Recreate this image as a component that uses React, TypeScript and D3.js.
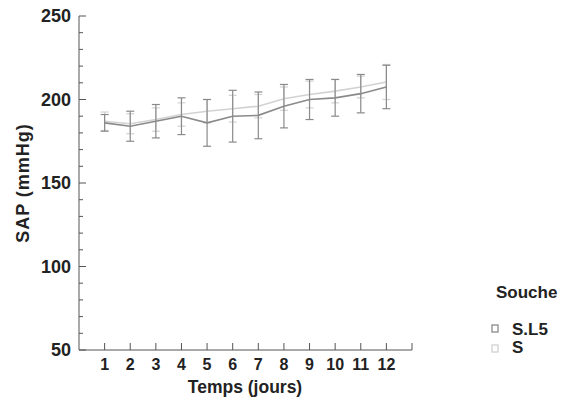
import React from "react";
import * as d3 from "d3";

const days = [1, 2, 3, 4, 5, 6, 7, 8, 9, 10, 11, 12];
const seriesNames = ["S.L5", "S"];
const meanSL5 = [186, 184, 187, 190, 186, 190, 190.5, 196, 200, 201, 203.5, 207.5];
const sdSL5 = [5, 9, 10, 11, 14, 15.5, 14, 13, 12, 11, 11.5, 13];
const meanS = [187, 185.5, 188, 191, 193, 194.5, 196, 200.5, 203, 205, 207.5, 210.5];
const sdS = [5.5, 6, 7, 7, 7, 8, 7, 7, 8, 7, 6.5, 10.5];
const yTicks = [50, 100, 150, 200, 250];
const yMinor = d3.range(50, 251, 10);
const xTicks = d3.range(1, 14);

const colors = ["#8a8a8a", "#d2d2d2"];

export default function App() {
  const W = 562, H = 406;
  const x = d3.scaleLinear().domain([0, 13]).range([79, 412]);
  const y = d3.scaleLinear().domain([50, 250]).range([350, 16]);
  const font = "'Liberation Sans', Arial, sans-serif";
  const line = d3.line<number>().x((_, i) => x(days[i])).y((d) => y(d));
  const series = [
    { name: seriesNames[0], mean: meanSL5, sd: sdSL5, color: colors[0] },
    { name: seriesNames[1], mean: meanS, sd: sdS, color: colors[1] },
  ];
  return (
    <svg width={W} height={H} style={{ position: "absolute", left: 0, top: 0 }}>
      <rect width={W} height={H} fill="#fff" />
      {[series[1], series[0]].map((s) => (
        <g key={s.name}>
          {s.mean.map((m, i) => {
            const cx = x(days[i]);
            const top = y(m + s.sd[i]);
            const bot = y(m - s.sd[i]);
            return (
              <g key={i} stroke={s.color} strokeWidth={1.2}>
                <line x1={cx} x2={cx} y1={top} y2={bot} />
                <line x1={cx - 4} x2={cx + 4} y1={top} y2={top} />
                <line x1={cx - 4} x2={cx + 4} y1={bot} y2={bot} />
              </g>
            );
          })}
          <path d={line(s.mean) || ""} fill="none" stroke={s.color} strokeWidth={1.6} />
        </g>
      ))}
      <g stroke="#555" strokeWidth={1}>
        <line x1={79} x2={79} y1={y(250)} y2={y(50)} />
        <line x1={79} x2={x(13)} y1={y(50)} y2={y(50)} />
        {yMinor.map((v) => (
          <line key={v} x1={79} x2={yTicks.includes(v) ? 86 : 83} y1={y(v)} y2={y(v)} />
        ))}
        {xTicks.map((v) => (
          <line key={v} x1={x(v)} x2={x(v)} y1={y(50)} y2={y(50) - 7} />
        ))}
      </g>
      <g fontFamily={font} fontWeight="bold" fontSize={17} fill="#222">
        {yTicks.map((v) => (
          <text key={v} x={71} y={y(v)} dy="0.35em" textAnchor="end" fontSize={18}>{v}</text>
        ))}
        {days.map((v) => (
          <text key={v} x={x(v)} y={370} textAnchor="middle" fontSize={16}>{v}</text>
        ))}
        <text x={245} y={393} textAnchor="middle" fontSize={17.5}>Temps (jours)</text>
        <text transform={`translate(29,183) rotate(-90)`} textAnchor="middle" fontSize={18} letterSpacing={1}>SAP (mmHg)</text>
        <text x={496} y={298} fontSize={17}>Souche</text>
        <text x={512} y={335} fontSize={17}>S.L5</text>
        <text x={512} y={353} fontSize={17}>S</text>
      </g>
      <rect x={492} y={325} width={6} height={7} fill="none" stroke={colors[0]} strokeWidth={1.3} />
      <rect x={492} y={345} width={6} height={7} fill="none" stroke={colors[1]} strokeWidth={1.3} />
    </svg>
  );
}
